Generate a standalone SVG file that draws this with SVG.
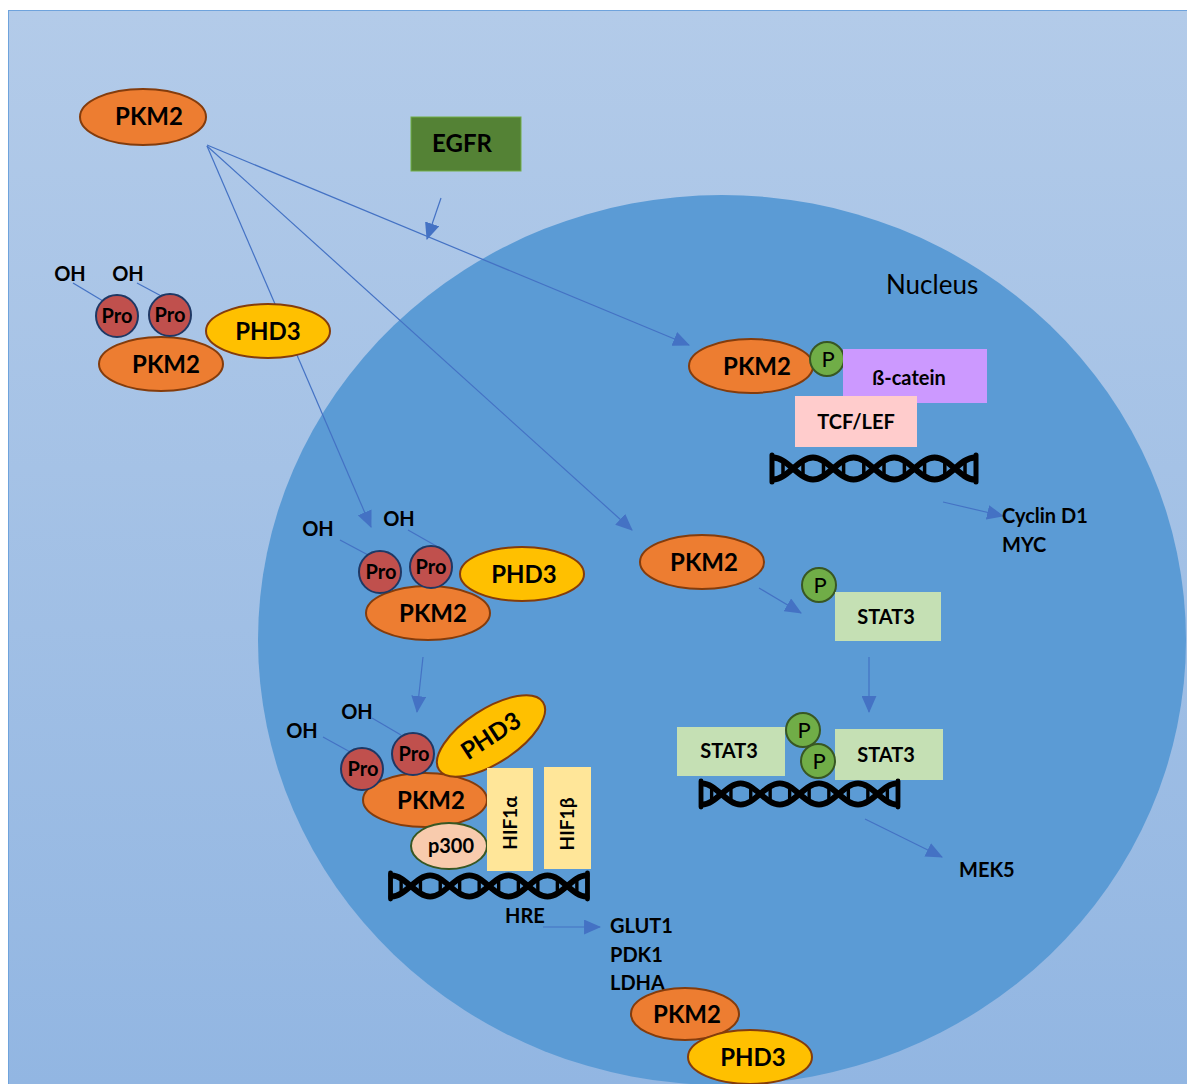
<svg xmlns="http://www.w3.org/2000/svg" width="1187" height="1084" viewBox="0 0 1187 1084">
<defs>
<linearGradient id="bg" x1="0" y1="0" x2="0" y2="1">
<stop offset="0" stop-color="#b3cbe9"/>
<stop offset="1" stop-color="#92b6e2"/>
</linearGradient>
<marker id="ah" viewBox="0 0 16 14" refX="15" refY="7" markerWidth="17" markerHeight="15" orient="auto" markerUnits="userSpaceOnUse">
<path d="M0,0 L16,7 L0,14 z" fill="#4472c4"/>
</marker>
<symbol id="dna" viewBox="0 0 210 29" overflow="visible">
<g fill="none" stroke="#000" stroke-linecap="round">
<path stroke-width="6" d="M4,3.5 C18.6,3.5 29.4,25.5 44,25.5 S69.6,3.5 84.6,3.5 S110.2,25.5 125.2,25.5 S150.6,3.5 165.6,3.5 S191.2,25.5 206,25.5"/>
<path stroke-width="6" d="M4,25.5 C18.6,25.5 29.4,3.5 44,3.5 S69.6,25.5 84.6,25.5 S110.2,3.5 125.2,3.5 S150.6,25.5 165.6,25.5 S191.2,3.5 206,3.5"/>
<path stroke-width="5" d="M3,1 V28 M207,1 V28"/>
<path stroke-width="3.5" d="M14,7 V22 M34,7 V22 M54.5,7 V22 M74.6,7 V22 M94.8,7 V22 M115,7 V22 M135.4,7 V22 M155.6,7 V22 M175.8,7 V22 M196,7 V22"/>
</g>
</symbol>
</defs>
<style>
.t{font-family:Lato,"Open Sans","Liberation Sans",sans-serif;font-weight:700;fill:#000;text-anchor:middle}
.n{font-size:24px}
.s{font-size:20px}
.l{text-anchor:start}
.pkm{fill:#ed7d31;stroke:#843c0c;stroke-width:2}
.phd{fill:#ffc000;stroke:#843c0c;stroke-width:2}
.pro{fill:#c0504d;stroke:#1f3864;stroke-width:2}
.ph{fill:#70ad47;stroke:#385723;stroke-width:2}
.pt{font-family:Lato,"Open Sans","Liberation Sans",sans-serif;font-size:22px;font-weight:400;fill:#000;text-anchor:middle}
.stat{fill:#c5e0b4}
.hif{fill:#ffe699}
.bond{stroke:#4472c4;stroke-width:1.2;fill:none}
.arr{stroke:#4472c4;stroke-width:1.2;fill:none;marker-end:url(#ah)}
</style>
<rect x="8.5" y="10.5" width="1180" height="1075" fill="url(#bg)" stroke="#6fa3dc" stroke-width="1"/>
<ellipse id="nucleus" cx="722" cy="640" rx="464" ry="445" fill="#5b9bd5"/>
<g id="connectors">
<line class="arr" x1="207" y1="145" x2="689" y2="345"/>
<line class="arr" x1="207" y1="146" x2="371" y2="527"/>
<line class="arr" x1="207" y1="146" x2="632" y2="530"/>
<line class="arr" x1="441" y1="198" x2="427" y2="239"/>
<line class="arr" x1="423" y1="657" x2="417" y2="712"/>
<line class="arr" x1="543" y1="927" x2="600" y2="927"/>
<line class="arr" x1="943" y1="502" x2="1003" y2="516"/>
<line class="arr" x1="759" y1="588" x2="801" y2="613"/>
<line class="arr" x1="869" y1="657" x2="869" y2="712"/>
<line class="arr" x1="865" y1="819" x2="942" y2="857"/>
</g>
<g id="pkm2-cyto">
<ellipse class="pkm" cx="143" cy="117" rx="63" ry="28"/>
<text class="t n" x="149" y="125">PKM2</text>
</g>
<g id="egfr">
<rect x="411" y="117" width="110" height="54" fill="#548235" stroke="#70ad47" stroke-width="1"/>
<text class="t n" x="462" y="152">EGFR</text>
</g>
<g id="complex-cyto">
<line class="bond" x1="73" y1="283" x2="103" y2="301"/>
<line class="bond" x1="137" y1="283" x2="165" y2="298"/>
<text class="t s" x="70" y="281">OH</text>
<text class="t s" x="128" y="281">OH</text>
<ellipse class="pkm" cx="161" cy="364" rx="62" ry="27"/>
<text class="t n" x="166" y="373">PKM2</text>
<circle class="pro" cx="117" cy="316" r="21"/>
<text class="t s" x="117" y="323">Pro</text>
<circle class="pro" cx="170" cy="315" r="21"/>
<text class="t s" x="170" y="322">Pro</text>
<ellipse class="phd" cx="268" cy="331" rx="62" ry="27"/>
<text class="t n" x="268" y="340">PHD3</text>
</g>
<g id="nucleus-label">
<text x="886" y="294" font-family="Lato,'Open Sans','Liberation Sans',sans-serif" font-size="26" fill="#000">Nucleus</text>
</g>
<g id="complex-nuc">
<line class="bond" x1="340" y1="540" x2="370" y2="556"/>
<line class="bond" x1="408" y1="530" x2="438" y2="547"/>
<text class="t s" x="318" y="536">OH</text>
<text class="t s" x="399" y="526">OH</text>
<ellipse class="phd" cx="522" cy="574" rx="62" ry="27"/>
<text class="t n" x="524" y="583">PHD3</text>
<ellipse class="pkm" cx="428" cy="613" rx="62" ry="27"/>
<text class="t n" x="433" y="622">PKM2</text>
<circle class="pro" cx="380" cy="572" r="21"/>
<text class="t s" x="381" y="579">Pro</text>
<circle class="pro" cx="431" cy="567" r="21"/>
<text class="t s" x="431" y="574">Pro</text>
</g>
<g id="complex-hif">
<line class="bond" x1="323" y1="737" x2="352" y2="753"/>
<line class="bond" x1="372" y1="718" x2="401" y2="735"/>
<text class="t s" x="302" y="738">OH</text>
<text class="t s" x="357" y="719">OH</text>
<ellipse class="pkm" cx="425" cy="800" rx="62" ry="27"/>
<text class="t n" x="431" y="809">PKM2</text>
<circle class="pro" cx="362" cy="769" r="21"/>
<text class="t s" x="363" y="776">Pro</text>
<circle class="pro" cx="413" cy="754" r="21"/>
<text class="t s" x="414" y="761">Pro</text>
<g transform="translate(491,736) rotate(-33)">
<ellipse class="phd" cx="0" cy="0" rx="62" ry="27"/>
<text class="t n" x="0" y="8">PHD3</text>
</g>
<ellipse cx="449" cy="846" rx="38" ry="23" fill="#f8cbad" stroke="#385723" stroke-width="2"/>
<text class="t s" x="451" y="853">p300</text>
<rect class="hif" x="487" y="768" width="46" height="103"/>
<text class="t" font-size="19" font-weight="400" transform="translate(517,823) rotate(-90)">HIF1α</text>
<rect class="hif" x="544" y="767" width="47" height="102"/>
<text class="t" font-size="19" font-weight="400" transform="translate(574,824) rotate(-90)">HIF1β</text>
<use href="#dna" x="385" y="872" width="208" height="28"/>
<text class="t s l" x="505" y="923">HRE</text>
</g>
<g id="hif-targets">
<text class="t s l" x="610" y="933">GLUT1</text>
<text class="t s l" x="610" y="962">PDK1</text>
<text class="t s l" x="610" y="990">LDHA</text>
</g>
<g id="pkm2-phd3">
<ellipse class="pkm" cx="685" cy="1014" rx="54" ry="26"/>
<text class="t n" x="687" y="1023">PKM2</text>
<ellipse class="phd" cx="750" cy="1057" rx="62" ry="27"/>
<text class="t n" x="753" y="1066">PHD3</text>
</g>
<g id="complex-catenin">
<ellipse class="pkm" cx="751" cy="366" rx="62" ry="27"/>
<text class="t n" x="757" y="375">PKM2</text>
<circle class="ph" cx="827" cy="359" r="17"/>
<text class="pt" x="828" y="367">P</text>
<rect x="843" y="349" width="144" height="54" fill="#cc99ff"/>
<text class="t s" x="909" y="385">ß-catein</text>
<rect x="795" y="396" width="122" height="51" fill="#ffcccc"/>
<text class="t s" x="856" y="429">TCF/LEF</text>
<use href="#dna" x="769" y="454" width="210" height="29"/>
</g>
<g id="catenin-targets">
<text class="t s l" x="1002" y="523">Cyclin D1</text>
<text class="t s l" x="1002" y="552">MYC</text>
</g>
<g id="pkm2-stat">
<ellipse class="pkm" cx="702" cy="562" rx="62" ry="27"/>
<text class="t n" x="704" y="571">PKM2</text>
</g>
<g id="stat3-p">
<circle class="ph" cx="819" cy="585" r="17"/>
<text class="pt" x="820" y="593">P</text>
<rect class="stat" x="835" y="592" width="106" height="49"/>
<text class="t s" x="886" y="624">STAT3</text>
</g>
<g id="stat3-dimer">
<rect class="stat" x="677" y="727" width="108" height="49"/>
<text class="t s" x="729" y="758">STAT3</text>
<rect class="stat" x="835" y="729" width="108" height="51"/>
<text class="t s" x="886" y="762">STAT3</text>
<circle class="ph" cx="803" cy="730" r="17"/>
<text class="pt" x="804" y="738">P</text>
<circle class="ph" cx="818" cy="761" r="17"/>
<text class="pt" x="819" y="769">P</text>
<use href="#dna" x="694" y="780" width="211" height="28"/>
</g>
<g id="mek5">
<text class="t s l" x="959" y="877">MEK5</text>
</g>
</svg>
